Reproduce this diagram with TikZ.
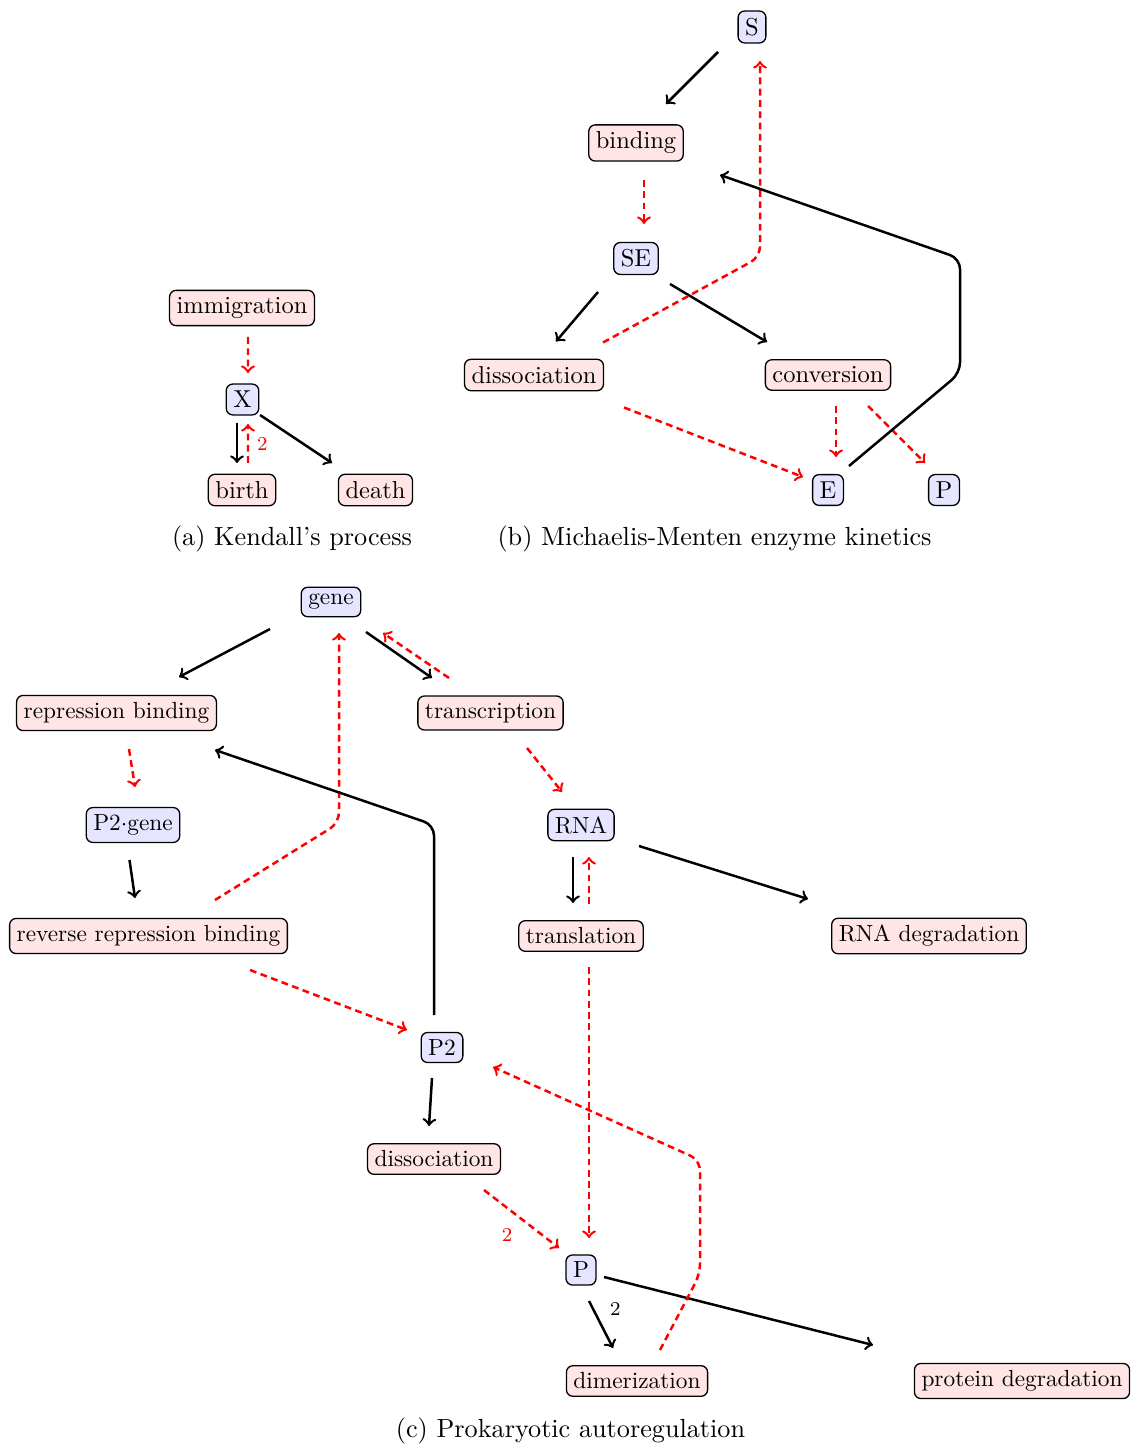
\documentclass[tikz,border=0pt]{standalone}
\usepackage{graphicx}
\usetikzlibrary{calc}
\newcommand\nta[1]{\scalebox{0.935}{#1}}
\newcommand\ntc[1]{\scalebox{0.89}{#1}}
\begin{document}
\begin{tikzpicture}[x=0.3817pt,y=-0.3817pt,
  nbox/.style={draw, line width=0.5pt, rounded corners=2.5pt, inner sep=2.7pt, font=\fontsize{10}{12}\selectfont},
  rxn/.style={nbox, fill=red!10},
  spc/.style={nbox, fill=blue!10},
  ccfont/.style={inner sep=2.4pt},
  arr/.style={->, line width=0.95pt},
  darr/.style={->, line width=0.95pt, red, dash pattern=on 2.6pt off 1.7pt},
  rbend/.style={rounded corners=4pt},
  lab/.style={font=\fontsize{7.5}{9}\selectfont, inner sep=1pt},
  captxt/.style={font=\fontsize{10}{12}\selectfont}]
\useasboundingbox (0,0) rectangle (1130,1444);

% ---------- (a) Kendall's process
\node[rxn] (imm) at (242,308) {\nta{immigration}};
\node[spc] (X) at (242.5,399.5) {\nta{X}};
\node[rxn] (birth) at (242,490) {\nta{birth}};
\node[rxn] (death) at (375.5,490) {\nta{death}};
\node[captxt] (capa) at (292,538.5) {(a) Kendall's process};

\draw[darr] ($(imm)+(6,29)$) -- ($(X)+(5.5,-26.5)$);
\draw[arr] ($(X)+(-5.5,23.5)$) -- ($(birth)+(-5,-27)$);
\draw[darr] ($(birth)+(6,-27)$) -- node[lab, right=2pt, text=red] {2} ($(X)+(5.5,24.5)$);
\draw[arr] ($(X)+(17.5,15.5)$) -- ($(death)+(-43.5,-27)$);

% ---------- (b) Michaelis-Menten
\node[spc] (S) at (752,27) {\nta{S}};
\node[rxn] (binding) at (636,143) {\nta{binding}};
\node[spc] (SE) at (636,258.5) {\nta{SE}};
\node[rxn] (dissB) at (534,375) {\nta{dissociation}};
\node[rxn] (conv) at (828,375) {\nta{conversion}};
\node[spc] (E) at (828,490) {\nta{E}};
\node[spc] (P) at (944,490) {\nta{P}};
\node[captxt] (capb) at (714.5,538.5) {(b) Michaelis-Menten enzyme kinetics};

\coordinate (b1) at (760,257);
\coordinate (b2) at (960,373);
\coordinate (b3) at (960,258.5);

\draw[arr] ($(S)+(-34,25)$) -- ($(binding)+(30,-39)$);
\draw[darr] ($(binding)+(8,37)$) -- ($(SE)+(8,-34.5)$);
\draw[arr] ($(SE)+(-38,33.5)$) -- ($(dissB)+(22,-33.5)$);
\draw[arr] ($(SE)+(34,25.5)$) -- ($(conv)+(-61,-33)$);
\draw[darr, rbend] ($(dissB)+(69,-32.5)$) -- (b1) -- ($(S)+(8,34)$);
\draw[darr] ($(dissB)+(90,32.5)$) -- ($(E)+(-25,-13)$);
\draw[darr] ($(conv)+(8,31)$) -- ($(E)+(8,-33)$);
\draw[darr] ($(conv)+(40,31)$) -- ($(P)+(-19,-27)$);
\draw[arr, rbend] ($(E)+(21,-24)$) -- (b2) -- (b3) -- ($(binding)+(84,32)$);

% ---------- (c) Prokaryotic autoregulation
\begin{scope}[every node/.append style={ccfont}]
\node[spc] (gene) at (331,602) {\ntc{gene}};
\node[rxn] (rep) at (116.5,713) {\ntc{repression binding}};
\node[rxn] (trans) at (490.5,713) {\ntc{transcription}};
\node[spc] (P2g) at (133,825) {\ntc{P2$\cdot$gene}};
\node[spc] (RNA) at (581,825) {\ntc{RNA}};
\node[rxn] (rev) at (148.5,936) {\ntc{reverse repression binding}};
\node[rxn] (transl) at (581,936) {\ntc{translation}};
\node[rxn] (RNAd) at (929,936) {\ntc{RNA degradation}};
\node[spc] (P2) at (442,1047.5) {\ntc{P2}};
\node[rxn] (dissC) at (434,1159) {\ntc{dissociation}};
\node[spc] (Pc) at (581,1270) {\ntc{P}};
\node[rxn] (dimer) at (637,1381) {\ntc{dimerization}};
\node[rxn] (protd) at (1022,1381) {\ntc{protein degradation}};
\end{scope}
\node[captxt] (capc) at (570.5,1431) {(c) Prokaryotic autoregulation};

\coordinate (c1) at (339,823);
\coordinate (c2) at (434,825);
\coordinate (c3) at (700,1274);
\coordinate (c4) at (700,1160);

\draw[arr] ($(gene)+(-61,27)$) -- ($(rep)+(62.5,-36)$);
\draw[arr] ($(gene)+(35,30)$) -- ($(trans)+(-58.5,-35)$);
\draw[darr] ($(trans)+(-41.5,-35)$) -- ($(gene)+(52,31)$);
\draw[darr, rbend] ($(rev)+(66.5,-36)$) -- (c1) -- ($(gene)+(8,31)$);
\draw[darr] ($(rep)+(12.5,36)$) -- ($(P2g)+(2,-38)$);
\draw[arr] ($(P2g)+(-3.5,35)$) -- ($(rev)+(-13.5,-38)$);
\draw[arr, rbend] ($(P2)+(-8,-32.5)$) -- (c2) -- ($(rep)+(98.5,37)$);
\draw[darr] ($(rev)+(101.5,34)$) -- ($(P2)+(-35,-17.5)$);
\draw[darr] ($(trans)+(36.5,35)$) -- ($(RNA)+(-19,-33)$);
\draw[arr] ($(RNA)+(-8,32)$) -- ($(transl)+(-8,-33)$);
\draw[darr] ($(transl)+(8,-32)$) -- ($(RNA)+(8,32)$);
\draw[arr] ($(RNA)+(58,21)$) -- ($(RNAd)+(-121,-37)$);
\draw[darr] ($(transl)+(8,31)$) -- ($(Pc)+(8,-32)$);
\draw[arr] ($(P2)+(-10,30.5)$) -- ($(dissC)+(-5,-33)$);
\draw[darr] ($(dissC)+(50,31)$) -- node[lab, below left=2pt, text=red] {2} ($(Pc)+(-22,-22)$);
\draw[arr] ($(Pc)+(8,31)$) -- node[lab, above right=2pt] {2} ($(dimer)+(-24,-33)$);
\draw[arr] ($(Pc)+(23,7)$) -- ($(protd)+(-149,-36)$);
\draw[darr, rbend] ($(dimer)+(23,-31)$) -- (c3) -- (c4) -- ($(P2)+(51,19.5)$);
\end{tikzpicture}
\end{document}
